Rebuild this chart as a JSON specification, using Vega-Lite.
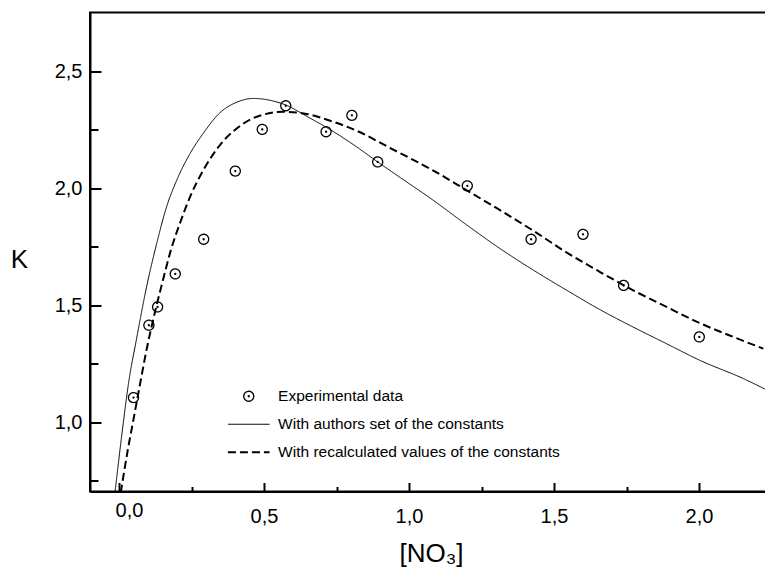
{
  "$schema": "https://vega.github.io/schema/vega-lite/v6.json",
  "width": 696,
  "height": 479,
  "autosize": {"type": "none"},
  "padding": {"left": 90, "top": 12.5, "right": 0, "bottom": 80.5},
  "background": "white",
  "config": {
    "font": "Liberation Sans",
    "view": {"stroke": "black", "strokeWidth": 2},
    "axis": {"labelFont": "Liberation Sans", "titleFont": "Liberation Sans", "labelColor": "black", "titleColor": "black", "domainColor": "black", "tickColor": "black", "domainWidth": 2, "tickWidth": 2, "grid": false, "titleFontWeight": "normal"}
  },
  "resolve": {"axis": {"x": "independent", "y": "independent"}},
  "data": {"values": [
    {"series": "Experimental data", "x": 0.05, "y": 1.106},
    {"series": "Experimental data", "x": 0.103, "y": 1.415},
    {"series": "Experimental data", "x": 0.133, "y": 1.493},
    {"series": "Experimental data", "x": 0.194, "y": 1.634},
    {"series": "Experimental data", "x": 0.292, "y": 1.782},
    {"series": "Experimental data", "x": 0.401, "y": 2.073},
    {"series": "Experimental data", "x": 0.494, "y": 2.251},
    {"series": "Experimental data", "x": 0.575, "y": 2.352},
    {"series": "Experimental data", "x": 0.714, "y": 2.241},
    {"series": "Experimental data", "x": 0.803, "y": 2.311},
    {"series": "Experimental data", "x": 0.892, "y": 2.112},
    {"series": "Experimental data", "x": 1.201, "y": 2.01},
    {"series": "Experimental data", "x": 1.421, "y": 1.782},
    {"series": "Experimental data", "x": 1.6, "y": 1.803},
    {"series": "Experimental data", "x": 1.74, "y": 1.585},
    {"series": "Experimental data", "x": 2.001, "y": 1.365},

    {"series": "With authors set of the constants", "x": -0.014, "y": 0.7},
    {"series": "With authors set of the constants", "x": 0.015, "y": 1.0},
    {"series": "With authors set of the constants", "x": 0.032, "y": 1.16},
    {"series": "With authors set of the constants", "x": 0.061, "y": 1.36},
    {"series": "With authors set of the constants", "x": 0.095, "y": 1.578},
    {"series": "With authors set of the constants", "x": 0.13, "y": 1.764},
    {"series": "With authors set of the constants", "x": 0.164, "y": 1.92},
    {"series": "With authors set of the constants", "x": 0.199, "y": 2.034},
    {"series": "With authors set of the constants", "x": 0.245, "y": 2.148},
    {"series": "With authors set of the constants", "x": 0.291, "y": 2.235},
    {"series": "With authors set of the constants", "x": 0.348, "y": 2.322},
    {"series": "With authors set of the constants", "x": 0.406, "y": 2.367},
    {"series": "With authors set of the constants", "x": 0.463, "y": 2.383},
    {"series": "With authors set of the constants", "x": 0.532, "y": 2.372},
    {"series": "With authors set of the constants", "x": 0.575, "y": 2.355},
    {"series": "With authors set of the constants", "x": 0.65, "y": 2.305},
    {"series": "With authors set of the constants", "x": 0.728, "y": 2.25},
    {"series": "With authors set of the constants", "x": 0.82, "y": 2.176},
    {"series": "With authors set of the constants", "x": 0.892, "y": 2.112},
    {"series": "With authors set of the constants", "x": 0.969, "y": 2.046},
    {"series": "With authors set of the constants", "x": 1.084, "y": 1.948},
    {"series": "With authors set of the constants", "x": 1.199, "y": 1.843},
    {"series": "With authors set of the constants", "x": 1.314, "y": 1.742},
    {"series": "With authors set of the constants", "x": 1.429, "y": 1.65},
    {"series": "With authors set of the constants", "x": 1.544, "y": 1.564},
    {"series": "With authors set of the constants", "x": 1.659, "y": 1.481},
    {"series": "With authors set of the constants", "x": 1.773, "y": 1.407},
    {"series": "With authors set of the constants", "x": 1.888, "y": 1.336},
    {"series": "With authors set of the constants", "x": 2.003, "y": 1.265},
    {"series": "With authors set of the constants", "x": 2.153, "y": 1.187},
    {"series": "With authors set of the constants", "x": 2.228, "y": 1.142},

    {"series": "With recalculated values of the constants", "x": 0.006, "y": 0.7},
    {"series": "With recalculated values of the constants", "x": 0.03, "y": 0.88},
    {"series": "With recalculated values of the constants", "x": 0.048, "y": 1.0},
    {"series": "With recalculated values of the constants", "x": 0.072, "y": 1.16},
    {"series": "With recalculated values of the constants", "x": 0.095, "y": 1.31},
    {"series": "With recalculated values of the constants", "x": 0.12, "y": 1.45},
    {"series": "With recalculated values of the constants", "x": 0.15, "y": 1.6},
    {"series": "With recalculated values of the constants", "x": 0.18, "y": 1.74},
    {"series": "With recalculated values of the constants", "x": 0.21, "y": 1.85},
    {"series": "With recalculated values of the constants", "x": 0.245, "y": 1.963},
    {"series": "With recalculated values of the constants", "x": 0.291, "y": 2.077},
    {"series": "With recalculated values of the constants", "x": 0.348, "y": 2.184},
    {"series": "With recalculated values of the constants", "x": 0.406, "y": 2.255},
    {"series": "With recalculated values of the constants", "x": 0.475, "y": 2.305},
    {"series": "With recalculated values of the constants", "x": 0.567, "y": 2.326},
    {"series": "With recalculated values of the constants", "x": 0.647, "y": 2.317},
    {"series": "With recalculated values of the constants", "x": 0.728, "y": 2.288},
    {"series": "With recalculated values of the constants", "x": 0.82, "y": 2.245},
    {"series": "With recalculated values of the constants", "x": 0.934, "y": 2.172},
    {"series": "With recalculated values of the constants", "x": 1.084, "y": 2.075},
    {"series": "With recalculated values of the constants", "x": 1.199, "y": 1.991},
    {"series": "With recalculated values of the constants", "x": 1.314, "y": 1.906},
    {"series": "With recalculated values of the constants", "x": 1.429, "y": 1.818},
    {"series": "With recalculated values of the constants", "x": 1.544, "y": 1.725},
    {"series": "With recalculated values of the constants", "x": 1.659, "y": 1.642},
    {"series": "With recalculated values of the constants", "x": 1.773, "y": 1.564},
    {"series": "With recalculated values of the constants", "x": 1.888, "y": 1.493},
    {"series": "With recalculated values of the constants", "x": 2.003, "y": 1.424},
    {"series": "With recalculated values of the constants", "x": 2.118, "y": 1.365},
    {"series": "With recalculated values of the constants", "x": 2.222, "y": 1.315}
  ]},
  "encoding": {
    "strokeDash": {
      "field": "series", "type": "nominal",
      "scale": {"type": "ordinal", "domain": ["Experimental data", "With authors set of the constants", "With recalculated values of the constants"], "range": [[1, 0], [1, 0], [8, 4]]},
      "legend": {"title": null, "orient": "none", "legendX": 151, "legendY": 376, "labelFont": "Liberation Sans", "labelFontSize": 15.5, "labelColor": "black", "labelOffset": 21.6, "labelLimit": 500, "rowPadding": 11, "symbolSize": 78.5, "symbolStrokeColor": "black", "symbolFillColor": "transparent"}
    },
    "strokeWidth": {
      "field": "series", "type": "nominal",
      "scale": {"type": "ordinal", "domain": ["Experimental data", "With authors set of the constants", "With recalculated values of the constants"], "range": [1.3, 1, 2]},
      "legend": {"title": null, "orient": "none", "legendX": 151, "legendY": 376, "labelFont": "Liberation Sans", "labelFontSize": 15.5, "labelColor": "black", "labelOffset": 21.6, "labelLimit": 500, "rowPadding": 11, "symbolSize": 78.5, "symbolStrokeColor": "black", "symbolFillColor": "transparent"}
    }
  },
  "layer": [
    {
      "transform": [{"filter": "datum.series != 'Experimental data'"}],
      "mark": {"type": "line", "color": "black", "interpolate": "monotone", "clip": true},
      "encoding": {
        "x": {
          "field": "x", "type": "quantitative",
          "scale": {"domain": [-0.1, 2.3], "nice": false, "zero": false},
          "axis": {
            "orient": "bottom",
            "values": [0, 0.5, 1, 1.5, 2],
            "labelExpr": "replace(format(datum.value, '.1f'), '.', ',')",
            "labelFontSize": 20,
            "labelFlush": false,
            "labelOverlap": false,
            "ticks": false,
            "labelPadding": {"condition": {"test": "datum.value == 0", "value": 9}, "value": 14.5},
            "labelOffset": {"condition": {"test": "datum.value == 0", "value": 10}, "value": 0},
            "title": "[NO₃]",
            "titleFontSize": 26,
            "titleX": 341,
            "titleY": 62,
            "titleAlign": "center",
            "titleBaseline": "middle"
          }
        },
        "y": {
          "field": "y", "type": "quantitative",
          "scale": {"domain": [0.705, 2.75], "nice": false, "zero": false},
          "axis": {
            "orient": "left",
            "values": [1, 1.5, 2, 2.5],
            "labelExpr": "replace(format(datum.value, '.1f'), '.', ',')",
            "labelFontSize": 20,
            "labelFlush": false,
            "labelOverlap": false,
            "ticks": false,
            "labelPadding": 8,
            "title": "K",
            "titleAngle": 0,
            "titleFontSize": 26,
            "titleX": -71,
            "titleY": 246.5,
            "titleAlign": "center",
            "titleBaseline": "middle"
          }
        }
      }
    },
    {
      "transform": [{"filter": "datum.series == 'Experimental data'"}],
      "mark": {"type": "point", "color": "black", "filled": false, "size": 78.5, "opacity": 1},
      "encoding": {
        "x": {
          "field": "x", "type": "quantitative",
          "scale": {"domain": [-0.1, 2.3], "nice": false, "zero": false},
          "axis": {
            "orient": "bottom",
            "values": [0, 0.25, 0.5, 0.75, 1, 1.25, 1.5, 1.75, 2, 2.25],
            "labels": false, "domain": false, "title": null,
            "tickSize": {"condition": {"test": "abs(datum.value*2 - round(datum.value*2)) < 0.01", "value": -9}, "value": -5}
          }
        },
        "y": {
          "field": "y", "type": "quantitative",
          "scale": {"domain": [0.705, 2.75], "nice": false, "zero": false},
          "axis": {
            "orient": "left",
            "values": [0.75, 1, 1.25, 1.5, 1.75, 2, 2.25, 2.5],
            "labels": false, "domain": false, "title": null,
            "tickSize": {"condition": {"test": "abs(datum.value*2 - round(datum.value*2)) < 0.01", "value": -11}, "value": -8}
          }
        },
        "shape": {
          "field": "series", "type": "nominal",
          "scale": {"domain": ["Experimental data", "With authors set of the constants", "With recalculated values of the constants"], "range": ["M-1.13,0A1.13,1.13 0 1,1 1.13,0A1.13,1.13 0 1,1 -1.13,0Z M-0.12,0A0.12,0.12 0 1,1 0.12,0A0.12,0.12 0 1,1 -0.12,0Z", "M-4.7,0H4.7", "M-4.7,0H4.7"]},
          "legend": {"title": null, "orient": "none", "legendX": 151, "legendY": 376, "labelFont": "Liberation Sans", "labelFontSize": 15.5, "labelColor": "black", "labelOffset": 21.6, "labelLimit": 500, "rowPadding": 11, "symbolSize": 78.5, "symbolStrokeColor": "black", "symbolFillColor": "transparent"}
        }
      }
    }
  ]
}
